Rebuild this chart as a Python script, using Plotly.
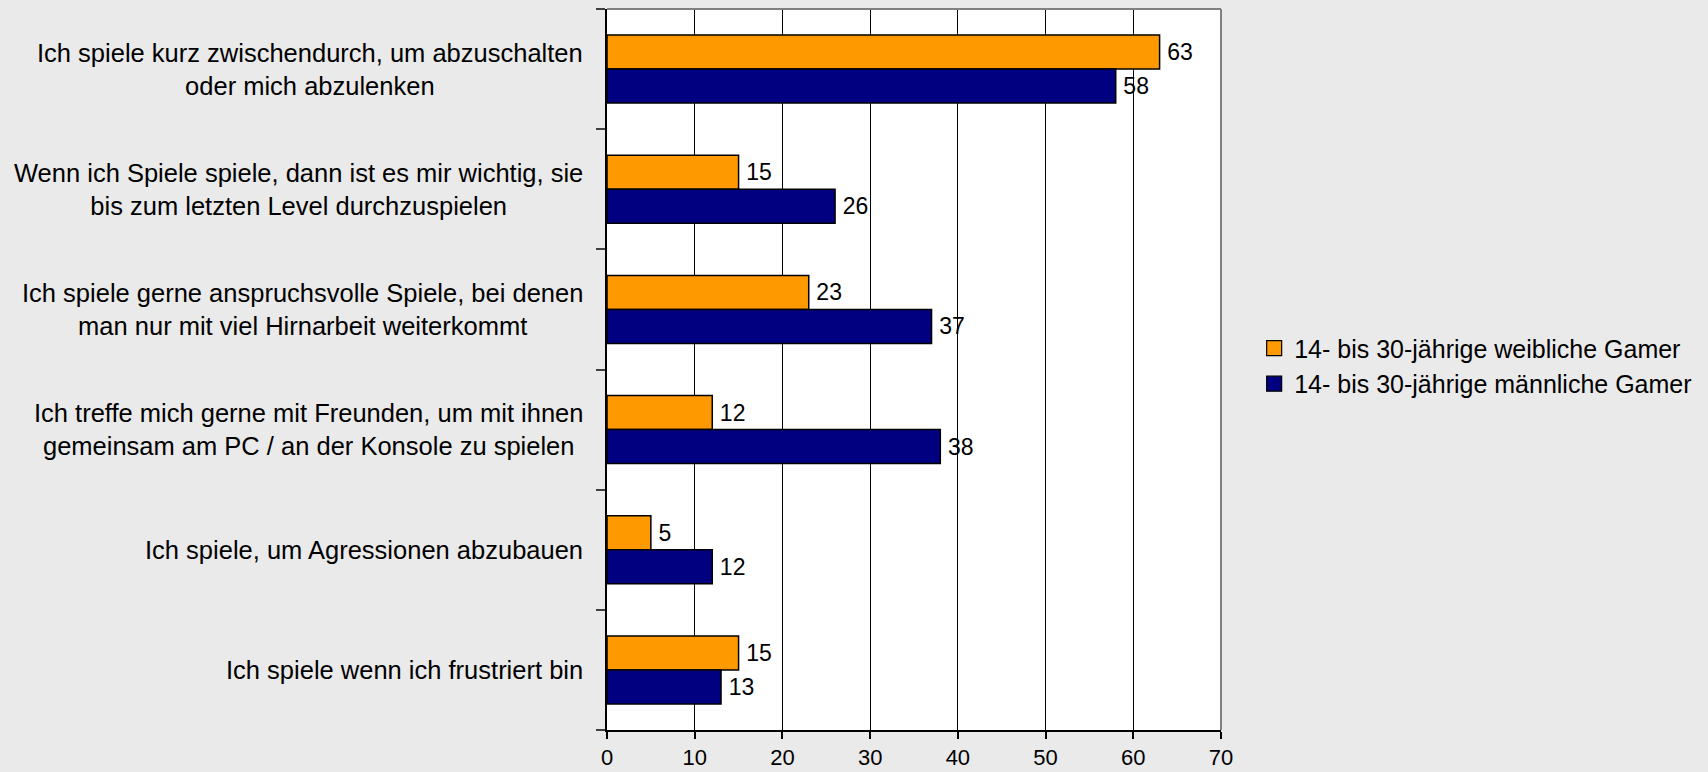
import plotly.graph_objects as go

# Survey statements (top to bottom) and shares in percent
statements = [
    "Ich spiele kurz zwischendurch, um abzuschalten<br>oder mich abzulenken",
    "Wenn ich Spiele spiele, dann ist es mir wichtig, sie<br>bis zum letzten Level durchzuspielen",
    "Ich spiele gerne anspruchsvolle Spiele, bei denen<br>man nur mit viel Hirnarbeit weiterkommt",
    "Ich treffe mich gerne mit Freunden, um mit ihnen<br>gemeinsam am PC / an der Konsole zu spielen",
    "Ich spiele, um Agressionen abzubauen",
    "Ich spiele wenn ich frustriert bin",
]
female_gamers = [63, 15, 23, 12, 5, 15]
male_gamers = [58, 26, 37, 38, 12, 13]

series_names = [
    "14- bis 30-jährige weibliche Gamer",
    "14- bis 30-jährige männliche Gamer",
]
x_ticks = [0, 10, 20, 30, 40, 50, 60, 70]

FONT = "Liberation Sans, Arial, sans-serif"
ORANGE = "#FF9900"
NAVY = "#000080"

cat_ids = list(range(len(statements)))
series = [
    (series_names[0], female_gamers, ORANGE),
    (series_names[1], male_gamers, NAVY),
]

fig = go.Figure()
for name, vals, col in series:
    fig.add_trace(go.Bar(
        y=cat_ids,
        x=vals,
        orientation="h",
        name=name,
        showlegend=False,
        marker=dict(color=col, line=dict(color="black", width=1.5)),
        text=["\u2009" + str(v) for v in vals],
        textposition="outside",
        constraintext="none",
        cliponaxis=False,
        textfont=dict(family=FONT, size=23, color="black"),
        hoverinfo="skip",
    ))

# Legend entries with larger square swatches
for name, vals, col in series:
    fig.add_trace(go.Scatter(
        x=[None], y=[None],
        mode="markers",
        name=name,
        legendgroup=name,
        marker=dict(symbol="square", size=15, color=col,
                    line=dict(color="black", width=1.2)),
        hoverinfo="skip",
    ))

# Statement labels, centred line by line, right-aligned as a block
for i, s in enumerate(statements):
    fig.add_annotation(
        xref="paper", yref="y",
        x=0, y=i, xanchor="right", yanchor="middle",
        xshift=-22,
        text=s, align="center", showarrow=False,
        font=dict(family=FONT, size=25.5, color="black"),
    )

# Grey frame on top and right edge of the plot area
fig.add_shape(type="line", xref="paper", yref="paper", x0=0, x1=1, y0=1, y1=1,
              line=dict(color="#808080", width=2), layer="above")
fig.add_shape(type="line", xref="paper", yref="paper", x0=1, x1=1, y0=0, y1=1,
              line=dict(color="#808080", width=2), layer="above")

fig.update_layout(
    width=1708, height=772,
    margin=dict(l=607, r=487, t=9, b=42),
    paper_bgcolor="#EAEAEA",
    plot_bgcolor="white",
    barmode="group",
    bargap=0.434,
    bargroupgap=0,
    font=dict(family=FONT, color="black"),
    showlegend=True,
    legend=dict(
        x=1.054, y=0.505, xanchor="left", yanchor="middle",
        bgcolor="rgba(0,0,0,0)",
        font=dict(family=FONT, size=25, color="black"),
        tracegroupgap=12,
        traceorder="normal",
    ),
    xaxis=dict(
        range=[0, 70],
        tickvals=x_ticks,
        ticktext=[str(t) for t in x_ticks],
        showgrid=True, gridcolor="black", gridwidth=1,
        zeroline=False,
        showline=True, linecolor="black", linewidth=1.5,
        ticks="outside", ticklen=7, tickcolor="black", tickwidth=1.5,
        automargin=False,
        tickfont=dict(family=FONT, size=22, color="black"),
    ),
    yaxis=dict(
        range=[len(statements) - 0.5, -0.5],
        tickmode="array",
        tickvals=[i - 0.5 for i in range(len(statements) + 1)],
        showticklabels=False,
        showgrid=False, zeroline=False,
        showline=True, linecolor="black", linewidth=1.5,
        automargin=False,
        ticks="outside", ticklen=9, tickcolor="#404040", tickwidth=1.5,
    ),
)

fig.write_html("out.html")
